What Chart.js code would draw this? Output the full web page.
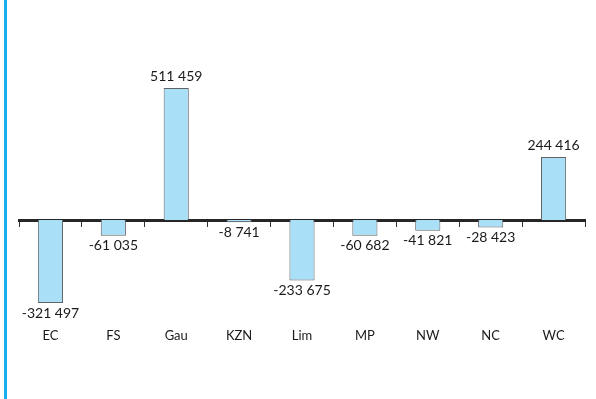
<!DOCTYPE html>
<html>
<head>
<meta charset="utf-8">
<script src="https://cdn.jsdelivr.net/npm/chart.js@4/dist/chart.umd.min.js"></script>
<style>
  html, body { margin: 0; padding: 0; background: #ffffff; }
  #wrap { position: relative; width: 596px; height: 399px; overflow: hidden; }
  #edge { position: absolute; left: 4px; top: 0; width: 3px; height: 399px; background: #17b1ef; }
  canvas { position: absolute; left: 0; top: 0; }
</style>
</head>
<body>
<div id="wrap">
  <div id="edge"></div>
  <canvas id="chart" width="596" height="399"></canvas>
</div>
<script>
// Net migration by province
const provinces = ['EC', 'FS', 'Gau', 'KZN', 'Lim', 'MP', 'NW', 'NC', 'WC'];
const netMigration = [-321497, -61035, 511459, -8741, -233675, -60682, -41821, -28423, 244416];

const FONT = 'Lato, "Open Sans", "Liberation Sans", sans-serif';

// "511 459" style: space as thousands separator
function fmt(v) {
  const s = Math.abs(v).toString().replace(/\B(?=(\d{3})+(?!\d))/g, ' ');
  return (v < 0 ? '-' : '') + s;
}

const valueLabels = {
  id: 'valueLabels',
  afterDatasetsDraw(chart) {
    const ctx = chart.ctx;
    const meta = chart.getDatasetMeta(0);
    const data = chart.data.datasets[0].data;
    ctx.save();
    ctx.font = '14px ' + FONT;
    ctx.fillStyle = '#1a1a1a';
    ctx.textAlign = 'center';
    meta.data.forEach((bar, i) => {
      const v = data[i];
      if (v >= 0) {
        ctx.textBaseline = 'bottom';
        ctx.fillText(fmt(v), bar.x, bar.y - 4);
      } else {
        ctx.textBaseline = 'top';
        ctx.fillText(fmt(v), bar.x, bar.y + 3);
      }
    });
    ctx.restore();
  }
};

new Chart(document.getElementById('chart'), {
  type: 'bar',
  data: {
    labels: provinces,
    datasets: [{
      data: netMigration,
      backgroundColor: '#aadff8',
      borderColor: '#626262',
      borderWidth: 1,
      barPercentage: 0.4,
      categoryPercentage: 1.0
    }]
  },
  options: {
    responsive: false,
    devicePixelRatio: 1,
    animation: false,
    layout: { padding: { left: 19, right: 11, top: 65, bottom: 50 } },
    plugins: { legend: { display: false }, tooltip: { enabled: false } },
    scales: {
      y: {
        display: false,
        min: -400000,
        max: 600000
      },
      x: {
        offset: true,
        grid: { display: false, drawTicks: false },
        border: { display: false },
        ticks: { padding: 5, color: '#1a1a1a', font: { family: FONT, size: 13 } }
      },
      x2: {
        type: 'category',
        position: { y: 0 },
        offset: true,
        grid: { offset: true, drawOnChartArea: false, drawTicks: true, tickLength: 5, color: '#333333', lineWidth: 1 },
        border: { display: true, color: '#262626', width: 3 },
        ticks: { display: false }
      }
    }
  },
  plugins: [valueLabels]
});
</script>
</body>
</html>
